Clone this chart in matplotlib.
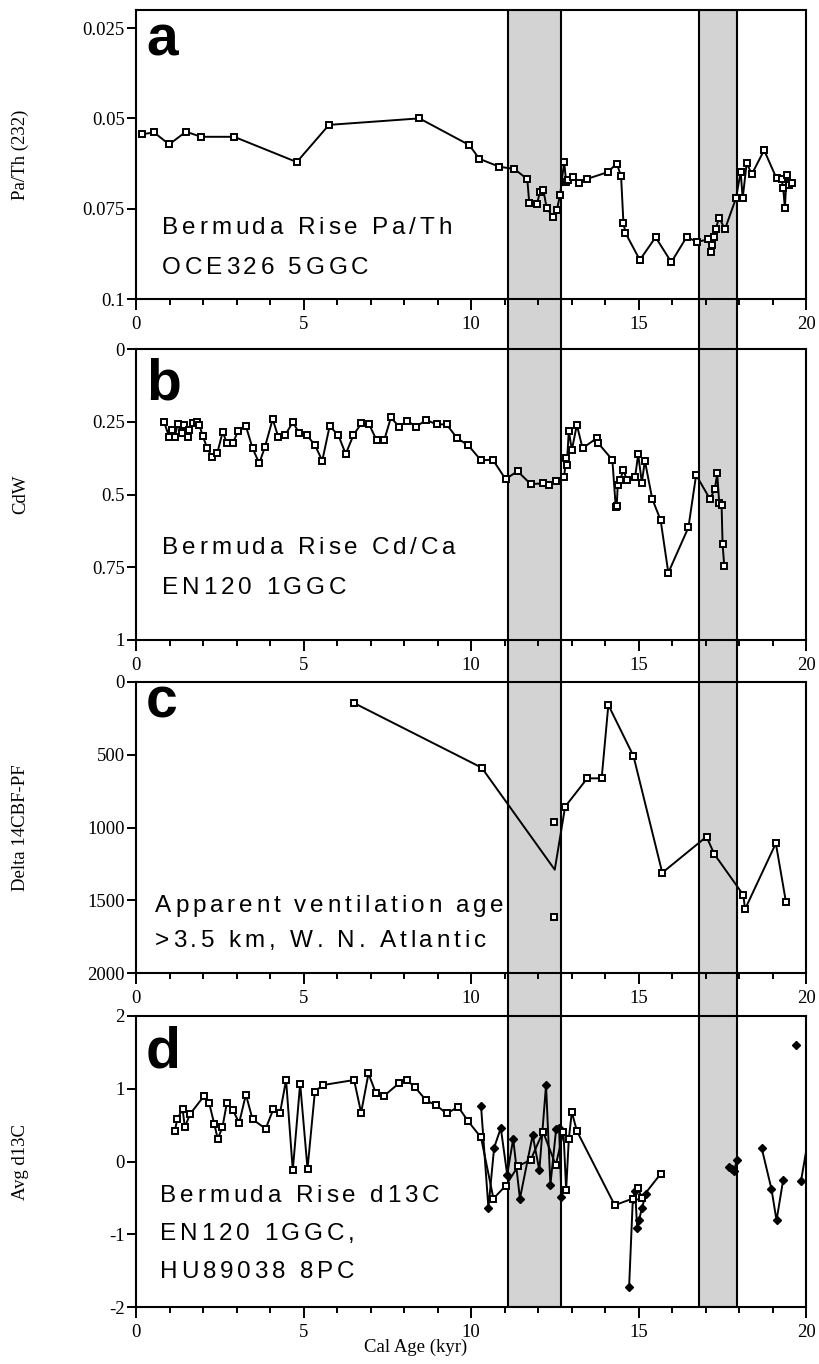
"""Bermuda Rise deglacial records: Pa/Th, Cd/Ca, ventilation age and d13C."""

import matplotlib

matplotlib.use("Agg")
import matplotlib.pyplot as plt
import numpy as np
from matplotlib import font_manager, ft2font
from matplotlib.ticker import MultipleLocator

nan = np.nan

# (a) Pa/Th, OCE326 5GGC
PA_AGE = [0.17, 0.54, 0.99, 1.49, 1.95, 2.93, 4.80, 5.76, 8.46, 9.95,
          10.25, 10.85, 11.29, 11.68, 11.74, 11.97, 12.06, 12.16, 12.26, 12.46,
          12.56, 12.66, 12.78, 12.84, 12.89, 13.05, 13.23, 13.45, 14.08, 14.35,
          14.48, 14.55, 14.61, 15.04, 15.51, 15.98, 16.44, 16.74, 17.08, 17.15,
          17.19, 17.25, 17.30, 17.41, 17.58, 17.91, 18.05, 18.11, 18.23, 18.38,
          18.75, 19.12, 19.27, 19.32, 19.37, 19.42, 19.50, 19.57]
PA_TH = [0.0544, 0.0539, 0.0572, 0.0537, 0.0551, 0.0551, 0.0621, 0.0518, 0.0500, 0.0574,
         0.0612, 0.0634, 0.0640, 0.0668, 0.0735, 0.0737, 0.0703, 0.0698, 0.0749, 0.0774,
         0.0754, 0.0712, 0.0621, 0.0675, 0.0671, 0.0663, 0.0678, 0.0668, 0.0649, 0.0625,
         0.0660, 0.0789, 0.0817, 0.0892, 0.0829, 0.0898, 0.0828, 0.0842, 0.0835, 0.0869,
         0.0851, 0.0828, 0.0807, 0.0775, 0.0807, 0.0721, 0.0648, 0.0721, 0.0623, 0.0655,
         0.0588, 0.0666, 0.0667, 0.0694, 0.0749, 0.0657, 0.0685, 0.0678]

# (b) Cd/Ca -> CdW, EN120 1GGC
CD_AGE = [0.84, 0.99, 1.06, 1.16, 1.24, 1.36, 1.44, 1.56, 1.59, 1.71,
          1.81, 1.89, 1.99, 2.13, 2.26, 2.43, 2.59, 2.71, 2.89, 3.05,
          3.28, 3.48, 3.68, 3.85, 4.08, 4.25, 4.45, 4.68, 4.87, 5.10,
          5.34, 5.56, 5.78, 6.04, 6.26, 6.49, 6.73, 6.96, 7.18, 7.41,
          7.61, 7.85, 8.10, 8.36, 8.66, 8.98, 9.27, 9.59, 9.92, 10.30,
          10.65, 11.03, 11.39, 11.78, 12.14, 12.34, 12.54, 12.78, 12.84, 12.86,
          12.92, 13.01, 13.16, 13.33, 13.77, 13.80, 14.22, 14.32, 14.35, 14.38,
          14.45, 14.55, 14.65, 14.90, 14.99, 15.10, 15.19, 15.41, 15.66, 15.89,
          16.49, 16.72, 17.13, 17.28, 17.35, 17.41, 17.48, 17.51, 17.56]
CDW = [0.251, 0.303, 0.278, 0.303, 0.258, 0.290, 0.261, 0.303, 0.278, 0.255,
       0.251, 0.260, 0.299, 0.341, 0.370, 0.356, 0.284, 0.324, 0.324, 0.281,
       0.265, 0.341, 0.393, 0.336, 0.241, 0.303, 0.296, 0.252, 0.288, 0.296,
       0.330, 0.384, 0.265, 0.296, 0.361, 0.296, 0.255, 0.259, 0.313, 0.313,
       0.235, 0.267, 0.247, 0.267, 0.244, 0.259, 0.259, 0.307, 0.331, 0.383,
       0.380, 0.447, 0.420, 0.464, 0.462, 0.467, 0.453, 0.439, 0.376, 0.399,
       0.281, 0.347, 0.261, 0.341, 0.305, 0.324, 0.381, 0.542, 0.540, 0.467,
       0.450, 0.416, 0.450, 0.439, 0.362, 0.459, 0.384, 0.515, 0.588, 0.769,
       0.613, 0.433, 0.515, 0.482, 0.427, 0.530, 0.536, 0.671, 0.746]

# (c) benthic - planktonic 14C age difference; 12.5 kyr vertex is the pair mean
C14_AGE = [6.52, 10.32, 12.50, 12.81, 13.47, 13.90, 14.10, 14.85, 15.71, 17.03,
           17.26, 18.13, 18.18, 19.10, 19.40]
C14_DELTA = [146, 589, 1290, 857, 662, 662, 158, 509, 1311, 1063,
             1182, 1464, 1562, 1109, 1510]
C14_PAIR_AGE = [12.49, 12.49]
C14_PAIR_DELTA = [962, 1613]

# (d) d13C, EN120 1GGC (squares) and HU89038 8PC (diamonds)
SQ_AGE = [1.16, 1.23, 1.39, 1.46, 1.61, 2.03, 2.18, 2.34, 2.44, 2.58,
          2.71, 2.89, 3.08, 3.28, 3.48, 3.87, 4.10, 4.30, 4.48, 4.68,
          4.90, 5.12, 5.34, 5.57, 6.51, 6.72, 6.94, 7.16, 7.40, 7.86,
          8.08, 8.33, 8.66, 8.97, 9.27, 9.62, 9.92, 10.30, 10.67, 11.04,
          11.41, 11.78, 12.15, 12.53, 12.76, 12.84, 12.92, 13.01, 13.16, 14.29,
          14.83, 14.99, 15.10, 15.66]
SQ_D13C = [0.42, 0.58, 0.72, 0.47, 0.65, 0.90, 0.81, 0.51, 0.31, 0.47,
           0.80, 0.71, 0.53, 0.92, 0.58, 0.45, 0.72, 0.67, 1.12, -0.12,
           1.07, -0.10, 0.96, 1.05, 1.12, 0.67, 1.21, 0.94, 0.90, 1.08,
           1.12, 1.02, 0.84, 0.77, 0.66, 0.75, 0.55, 0.33, -0.51, -0.33,
           -0.06, 0.02, 0.41, -0.05, 0.41, -0.39, 0.31, 0.68, 0.42, -0.60,
           -0.51, -0.37, -0.50, -0.17]
DIA_AGE = [10.30, 10.52, 10.69, 10.89, 11.08, 11.26, 11.46, 11.84, 12.04, 12.24,
           12.37, 12.54, 12.63, 12.70, nan, 14.72, 14.83, 14.90, 14.96, 15.02,
           15.10, 15.22, nan, 17.71, 17.78, 17.86, 17.93, nan, 18.68, 18.97,
           19.12, 19.32, nan, 19.69, nan, 19.85, 20.40]
DIA_D13C = [0.76, -0.64, 0.19, 0.46, -0.18, 0.31, -0.51, 0.36, -0.12, 1.05,
            -0.32, 0.44, 0.46, -0.49, nan, -1.72, -0.52, -0.40, -0.92, -0.80,
            -0.64, -0.45, nan, -0.07, -0.10, -0.13, 0.02, nan, 0.18, -0.38,
            -0.81, -0.25, nan, 1.60, nan, -0.27, 1.20]

# shaded events (kyr)
BANDS = [(11.1, 12.7), (16.8, 17.95)]

YLABELS = ["Pa/Th (232)", "CdW", "Delta 14CBF-PF", "Avg d13C"]
YTICKS = [[0.025, 0.05, 0.075, 0.1], [0, 0.25, 0.5, 0.75, 1],
          [0, 500, 1000, 1500, 2000], [-2, -1, 0, 1, 2]]
YTICK_LABELS = [["0.025", "0.05", "0.075", "0.1"], ["0", "0.25", "0.5", "0.75", "1"],
                ["0", "500", "1000", "1500", "2000"], ["-2", "-1", "0", "1", "2"]]
YLIMS = [(0.1, 0.02), (1, 0), (2000, 0), (-2, 2)]
LETTERS = ["a", "b", "c", "d"]
CAPTIONS = [["Bermuda Rise Pa/Th", "OCE326 5GGC"],
            ["Bermuda Rise Cd/Ca", "EN120 1GGC"],
            ["Apparent ventilation age", ">3.5 km, W. N. Atlantic"],
            ["Bermuda Rise d13C", "EN120 1GGC,", "HU89038 8PC"]]

W, H = 819, 1364
SERIF = "Liberation Serif"
SANS = "Liberation Sans"
SANS_FILE = font_manager.findfont(font_manager.FontProperties(family=SANS))

plt.rcParams.update({"axes.unicode_minus": False, "font.family": SERIF})

# panel frames in pixels (top, bottom), letter baseline below top, caption baselines above bottom
FRAMES = [(10, 299), (349, 640), (682, 973), (1016, 1307)]
LETTER_DROP = [45, 50, 36, 51]
CAPTION_X = [26, 26, 19, 24]
CAPTION_Y = [[65, 25], [86, 46], [61, 26], [105, 67, 29]]

fig = plt.figure(figsize=(W / 100, H / 100), dpi=100)


def add_frame(top, bottom):
    return fig.add_axes([136 / W, 1 - bottom / H, 670 / W, (bottom - top) / H])


def spaced_text(ax, x, y, text, size=17.5, track=3.8):
    # letter-spaced caption, one glyph at a time
    face = ft2font.FT2Font(SANS_FILE)
    face.set_size(size, fig.dpi)
    for ch in text:
        if ch != " ":
            ax.annotate(ch, (0, 0), xycoords="axes fraction", xytext=(x, y),
                        textcoords="offset pixels", fontsize=size, family=SANS,
                        va="baseline", ha="left")
        x += face.load_char(ord(ch)).linearHoriAdvance / 65536 + track


def polish(ax):
    ax.set_facecolor("none")
    ax.set_xlim(0, 20)
    ax.set_xticks([0, 5, 10, 15, 20])
    ax.xaxis.set_minor_locator(MultipleLocator(1))
    ax.tick_params(axis="x", which="major", direction="out", length=8, width=1.4,
                   pad=4.5, labelsize=13.5)
    ax.tick_params(axis="x", which="minor", direction="out", length=4, width=1.4)
    ax.tick_params(axis="y", which="major", direction="out", length=6.5, width=1.4,
                   pad=1.5, labelsize=13.5)
    for spine in ax.spines.values():
        spine.set_linewidth(1.5)
        spine.set_color("black")


# background axes carrying the shaded bands through all panels
bg = add_frame(FRAMES[0][0], FRAMES[-1][1])
bg.set_xlim(0, 20)
bg.axis("off")
for x0, x1 in BANDS:
    bg.axvspan(x0, x1, facecolor="#d3d3d3", edgecolor="black", linewidth=1.5)

axes = [add_frame(t, b) for t, b in FRAMES]
line_kw = dict(color="black", lw=1.4)
square = dict(marker="s", ms=5.0, mfc="white", mec="black", mew=1.4)

axes[0].plot(PA_AGE, PA_TH, **line_kw, **square)
axes[1].plot(CD_AGE, CDW, **line_kw, **square)
axes[2].plot(C14_AGE, C14_DELTA, **line_kw, **square,
             markevery=[i for i in range(len(C14_AGE)) if i != 2])
axes[2].plot(C14_PAIR_AGE, C14_PAIR_DELTA, ls="none", **square)
axes[3].plot(DIA_AGE, DIA_D13C, **line_kw, marker="D", ms=4.5, mfc="black", mec="black")
axes[3].plot(SQ_AGE, SQ_D13C, **line_kw, **square)

for i, ax in enumerate(axes):
    polish(ax)
    ax.set_ylim(*YLIMS[i])
    ax.set_yticks(YTICKS[i], YTICK_LABELS[i])
    ax.set_ylabel(YLABELS[i], fontsize=13.5, family=SERIF)
    ax.yaxis.set_label_coords(-0.16, 0.5)
    ax.annotate(LETTERS[i], (0, 1), xycoords="axes fraction", xytext=(10, -LETTER_DROP[i]),
                textcoords="offset pixels", fontsize=41, fontweight="bold", family=SANS,
                va="baseline", ha="left")
    for line, y in zip(CAPTIONS[i], CAPTION_Y[i]):
        spaced_text(ax, CAPTION_X[i], y, line)

fig.text(416 / W, 1 - 1347 / H, "Cal Age (kyr)", ha="center", va="center",
         fontsize=13.5, family=SERIF)

fig.savefig("out.png", dpi=100, facecolor="white")
